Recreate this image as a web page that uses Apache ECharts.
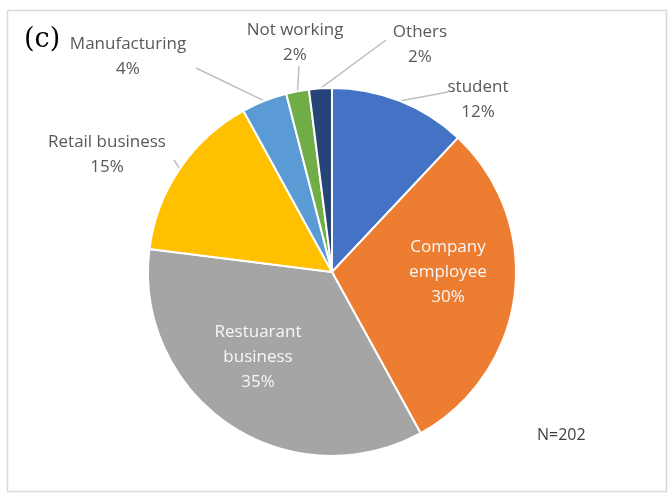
<!DOCTYPE html>
<html>
<head>
<meta charset="utf-8">
<style>
  html, body { margin: 0; padding: 0; background: #ffffff; }
  #chart { width: 670px; height: 497px; }
</style>
<script src="https://cdn.jsdelivr.net/npm/echarts@6/dist/echarts.min.js"></script>
</head>
<body>
<div id="chart"></div>
<script>
// Occupation of respondents (share of total, %), clockwise from 12 o'clock
const categories = ['student', 'Company employee', 'Restuarant business', 'Retail business', 'Manufacturing', 'Not working', 'Others'];
const shares = [12, 30, 35, 15, 4, 2, 2];
const sliceColors = ['#4472C4', '#ED7D31', '#A5A5A5', '#FFC000', '#5B9BD5', '#70AD47', '#264478'];
const insideLabels = ['Company employee', 'Restuarant business'];
const panelTag = '(c)';
const sampleNote = 'N=202';

// label anchor (centre of the text block) for each slice
const labelAnchors = {
  'student': [478, 100],
  'Company employee': [448, 272],
  'Restuarant business': [258, 357],
  'Retail business': [107, 155],
  'Manufacturing': [128, 57],
  'Not working': [295, 43],
  'Others': [420, 45]
};
// where each leader line meets its label
const lineEnds = {
  'student': [448, 92],
  'Retail business': [174, 160],
  'Manufacturing': [196, 68],
  'Not working': [299, 66],
  'Others': [386, 40]
};

const labelFont = '"Open Sans", "Noto Sans", sans-serif';

const chart = echarts.init(document.getElementById('chart'));

const pieData = categories.map((name, i) => {
  const inside = insideLabels.includes(name);
  return {
    name: name,
    value: shares[i],
    itemStyle: { color: sliceColors[i] },
    label: inside ? { color: '#f7f7f7' } : {},
    labelLine: { show: !inside }
  };
});

chart.setOption({
  animation: false,
  backgroundColor: '#ffffff',
  graphic: [
    {
      type: 'rect',
      shape: { x: 7.5, y: 10.5, width: 659, height: 481 },
      style: { fill: 'none', stroke: '#d9d9d9', lineWidth: 1.5 },
      silent: true
    },
    {
      type: 'text',
      left: 24,
      top: 26,
      style: { text: panelTag, font: '27px "DejaVu Serif", "Liberation Serif", serif', fill: '#000000' }
    },
    {
      type: 'text',
      left: 537,
      top: 427,
      style: { text: sampleNote, font: '16px ' + labelFont, fill: '#404040' }
    }
  ],
  series: [{
    type: 'pie',
    center: [332, 272],
    radius: 184,
    startAngle: 90,
    clockwise: true,
    avoidLabelOverlap: false,
    itemStyle: { borderColor: '#ffffff', borderWidth: 2 },
    label: {
      show: true,
      position: 'outside',
      color: '#595959',
      fontFamily: labelFont,
      fontSize: 17,
      lineHeight: 25,
      align: 'center',
      formatter: p => {
        const name = insideLabels.includes(p.name) ? p.name.replace(' ', '\n') : p.name;
        return name + '\n' + p.value + '%';
      }
    },
    labelLine: {
      show: true,
      length: 10,
      length2: 10,
      lineStyle: { color: '#bfbfbf', width: 1.5 }
    },
    labelLayout: params => {
      const name = categories[params.dataIndex];
      const anchor = labelAnchors[name];
      const layout = { x: anchor[0], y: anchor[1], align: 'center', verticalAlign: 'middle' };
      const end = lineEnds[name];
      if (end && params.labelLinePoints) {
        const start = params.labelLinePoints[0];
        layout.labelLinePoints = [start, end, end];
      }
      return layout;
    },
    data: pieData
  }]
});
</script>
</body>
</html>
